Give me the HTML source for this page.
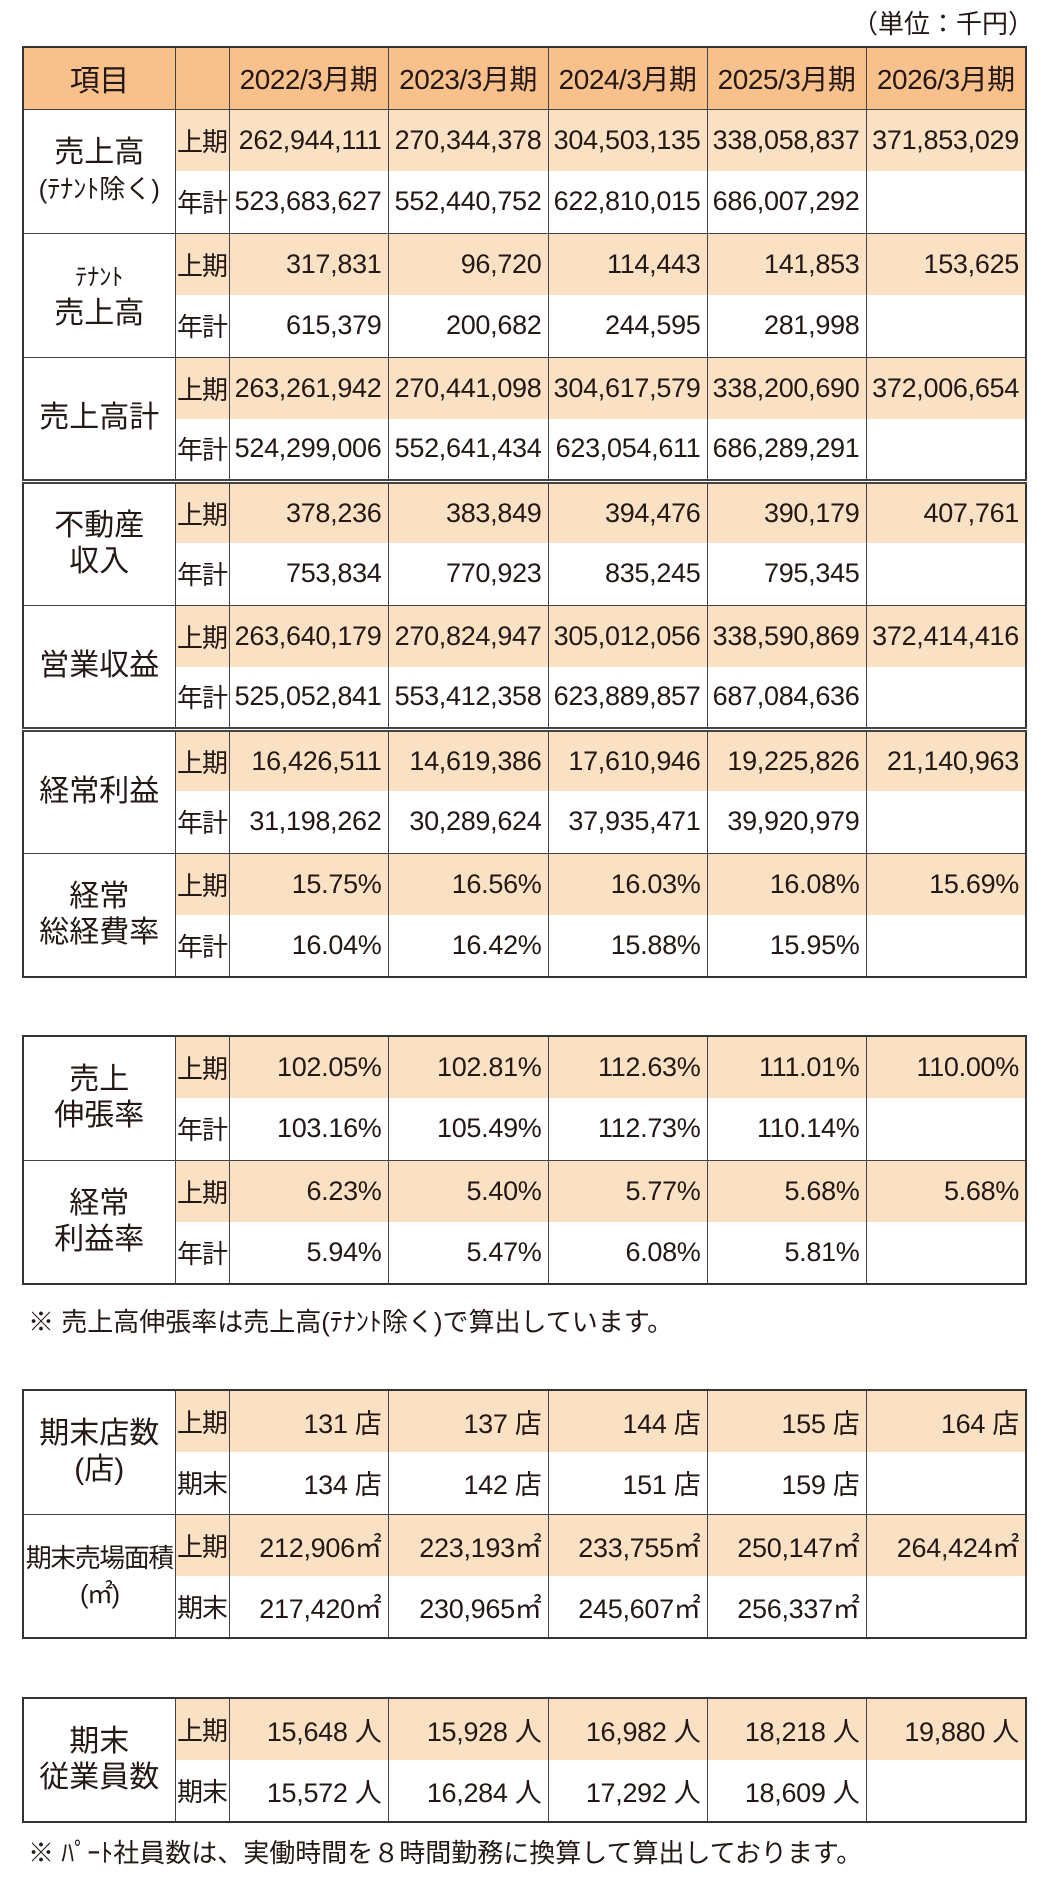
<!DOCTYPE html>
<html><head><meta charset="utf-8"><style>
body{margin:0;background:#fff;width:1045px;height:1884px;position:relative;font-family:"Liberation Sans","Noto Sans CJK JP",sans-serif;color:#231815;overflow:hidden}
table{position:absolute;left:22px;border-collapse:collapse;table-layout:fixed;width:1003px;border:2px solid #333}
td{border:1px solid #444;padding:0;font-size:27px;white-space:nowrap;overflow:hidden}
td.n{text-align:right;padding-right:6px;letter-spacing:-0.3px}
td.k{text-align:center;font-size:26px;letter-spacing:-1px;padding:0}
td.l{text-align:center;font-size:30px;line-height:36px;background:#fff}
tr.u td{background:#fbe1c4}
tr.u td.l{background:#fff}
tr.y td{border-top:none}
tr.u td.n,tr.u td.k{border-bottom:none}
th{background:#f8c08a;font-weight:normal;font-size:28px;letter-spacing:-0.5px;border:1px solid #444}
tr.dbl td{border-top:5px double #444}
.note{position:absolute;left:28px;font-size:26px;white-space:nowrap}
</style></head><body>
<div style="position:absolute;left:852px;top:4px;font-size:26px">（単位：千円）</div>
<table style="top:46px">
<colgroup><col style="width:152px"><col style="width:54px"><col style="width:159px"><col style="width:160px"><col style="width:159px"><col style="width:159px"><col style="width:160px"></colgroup>
<tr style="height:62px"><th style="font-size:30px">項目</th><th></th><th>2022/3月期</th><th>2023/3月期</th><th>2024/3月期</th><th>2025/3月期</th><th>2026/3月期</th></tr>
<tr class="u" style="height:62px"><td class="l" rowspan="2">売上高<br><span style="font-size:26px">(ﾃﾅﾝﾄ除く)</span></td><td class="k">上期</td><td class="n">262,944,111</td><td class="n">270,344,378</td><td class="n">304,503,135</td><td class="n">338,058,837</td><td class="n">371,853,029</td></tr>
<tr class="y" style="height:62px"><td class="k">年計</td><td class="n">523,683,627</td><td class="n">552,440,752</td><td class="n">622,810,015</td><td class="n">686,007,292</td><td class="n"></td></tr>
<tr class="u" style="height:62px"><td class="l" rowspan="2"><span style="font-size:24px">ﾃﾅﾝﾄ</span><br>売上高</td><td class="k">上期</td><td class="n">317,831</td><td class="n">96,720</td><td class="n">114,443</td><td class="n">141,853</td><td class="n">153,625</td></tr>
<tr class="y" style="height:62px"><td class="k">年計</td><td class="n">615,379</td><td class="n">200,682</td><td class="n">244,595</td><td class="n">281,998</td><td class="n"></td></tr>
<tr class="u" style="height:62px"><td class="l" rowspan="2">売上高計</td><td class="k">上期</td><td class="n">263,261,942</td><td class="n">270,441,098</td><td class="n">304,617,579</td><td class="n">338,200,690</td><td class="n">372,006,654</td></tr>
<tr class="y" style="height:62px"><td class="k">年計</td><td class="n">524,299,006</td><td class="n">552,641,434</td><td class="n">623,054,611</td><td class="n">686,289,291</td><td class="n"></td></tr>
<tr class="u dbl" style="height:62px"><td class="l" rowspan="2">不動産<br>収入</td><td class="k">上期</td><td class="n">378,236</td><td class="n">383,849</td><td class="n">394,476</td><td class="n">390,179</td><td class="n">407,761</td></tr>
<tr class="y" style="height:62px"><td class="k">年計</td><td class="n">753,834</td><td class="n">770,923</td><td class="n">835,245</td><td class="n">795,345</td><td class="n"></td></tr>
<tr class="u" style="height:62px"><td class="l" rowspan="2">営業収益</td><td class="k">上期</td><td class="n">263,640,179</td><td class="n">270,824,947</td><td class="n">305,012,056</td><td class="n">338,590,869</td><td class="n">372,414,416</td></tr>
<tr class="y" style="height:62px"><td class="k">年計</td><td class="n">525,052,841</td><td class="n">553,412,358</td><td class="n">623,889,857</td><td class="n">687,084,636</td><td class="n"></td></tr>
<tr class="u dbl" style="height:62px"><td class="l" rowspan="2">経常利益</td><td class="k">上期</td><td class="n">16,426,511</td><td class="n">14,619,386</td><td class="n">17,610,946</td><td class="n">19,225,826</td><td class="n">21,140,963</td></tr>
<tr class="y" style="height:62px"><td class="k">年計</td><td class="n">31,198,262</td><td class="n">30,289,624</td><td class="n">37,935,471</td><td class="n">39,920,979</td><td class="n"></td></tr>
<tr class="u" style="height:62px"><td class="l" rowspan="2">経常<br>総経費率</td><td class="k">上期</td><td class="n">15.75%</td><td class="n">16.56%</td><td class="n">16.03%</td><td class="n">16.08%</td><td class="n">15.69%</td></tr>
<tr class="y" style="height:62px"><td class="k">年計</td><td class="n">16.04%</td><td class="n">16.42%</td><td class="n">15.88%</td><td class="n">15.95%</td><td class="n"></td></tr>
</table>

<table style="top:1035px">
<colgroup><col style="width:152px"><col style="width:54px"><col style="width:159px"><col style="width:160px"><col style="width:159px"><col style="width:159px"><col style="width:160px"></colgroup>
<tr class="u" style="height:62px"><td class="l" rowspan="2">売上<br>伸張率</td><td class="k">上期</td><td class="n">102.05%</td><td class="n">102.81%</td><td class="n">112.63%</td><td class="n">111.01%</td><td class="n">110.00%</td></tr>
<tr class="y" style="height:62px"><td class="k">年計</td><td class="n">103.16%</td><td class="n">105.49%</td><td class="n">112.73%</td><td class="n">110.14%</td><td class="n"></td></tr>
<tr class="u" style="height:62px"><td class="l" rowspan="2">経常<br>利益率</td><td class="k">上期</td><td class="n">6.23%</td><td class="n">5.40%</td><td class="n">5.77%</td><td class="n">5.68%</td><td class="n">5.68%</td></tr>
<tr class="y" style="height:62px"><td class="k">年計</td><td class="n">5.94%</td><td class="n">5.47%</td><td class="n">6.08%</td><td class="n">5.81%</td><td class="n"></td></tr>
</table>
<div class="note" style="top:1302px">※ 売上高伸張率は売上高(ﾃﾅﾝﾄ除く)で算出しています。</div>

<table style="top:1389px">
<colgroup><col style="width:152px"><col style="width:54px"><col style="width:159px"><col style="width:160px"><col style="width:159px"><col style="width:159px"><col style="width:160px"></colgroup>
<tr class="u" style="height:62px"><td class="l" rowspan="2">期末店数<br>(店)</td><td class="k">上期</td><td class="n">131 店</td><td class="n">137 店</td><td class="n">144 店</td><td class="n">155 店</td><td class="n">164 店</td></tr>
<tr class="y" style="height:62px"><td class="k">期末</td><td class="n">134 店</td><td class="n">142 店</td><td class="n">151 店</td><td class="n">159 店</td><td class="n"></td></tr>
<tr class="u" style="height:62px"><td class="l" rowspan="2" style="font-size:26px;letter-spacing:-1.5px">期末売場面積<br>(㎡)</td><td class="k">上期</td><td class="n">212,906㎡</td><td class="n">223,193㎡</td><td class="n">233,755㎡</td><td class="n">250,147㎡</td><td class="n">264,424㎡</td></tr>
<tr class="y" style="height:62px"><td class="k">期末</td><td class="n">217,420㎡</td><td class="n">230,965㎡</td><td class="n">245,607㎡</td><td class="n">256,337㎡</td><td class="n"></td></tr>
</table>

<table style="top:1697px">
<colgroup><col style="width:152px"><col style="width:54px"><col style="width:159px"><col style="width:160px"><col style="width:159px"><col style="width:159px"><col style="width:160px"></colgroup>
<tr class="u" style="height:62px"><td class="l" rowspan="2">期末<br>従業員数</td><td class="k">上期</td><td class="n">15,648 人</td><td class="n">15,928 人</td><td class="n">16,982 人</td><td class="n">18,218 人</td><td class="n">19,880 人</td></tr>
<tr class="y" style="height:62px"><td class="k">期末</td><td class="n">15,572 人</td><td class="n">16,284 人</td><td class="n">17,292 人</td><td class="n">18,609 人</td><td class="n"></td></tr>
</table>
<div class="note" style="top:1833px">※ ﾊﾟｰﾄ社員数は、実働時間を８時間勤務に換算して算出しております。</div>
</body></html>
